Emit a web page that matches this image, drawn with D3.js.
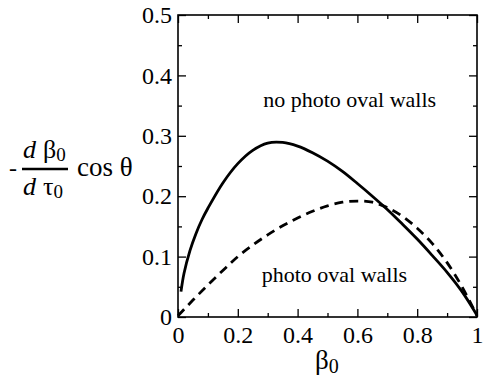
<!DOCTYPE html>
<html>
<head>
<meta charset="utf-8">
<script src="https://cdn.jsdelivr.net/npm/d3@7"></script>
<style>
  body { margin: 0; background: #fff; }
</style>
</head>
<body>
<div id="chart-area"></div>
<script>
// data
var beta = [0.01, 0.02, 0.04, 0.06, 0.08, 0.1, 0.15, 0.2, 0.25, 0.3, 0.35, 0.4, 0.45, 0.5,
            0.55, 0.6, 0.65, 0.7, 0.75, 0.8, 0.85, 0.9, 0.95, 1.0];
var noWalls = [0.042, 0.072, 0.11, 0.138, 0.161, 0.18, 0.222, 0.254, 0.276, 0.288, 0.289, 0.283,
               0.272, 0.258, 0.241, 0.221, 0.2, 0.178, 0.154, 0.129, 0.102, 0.074, 0.042, 0.003];

var betaD = [0, 0.05, 0.1, 0.15, 0.2, 0.25, 0.3, 0.35, 0.4, 0.45, 0.5, 0.55, 0.6, 0.65, 0.7,
             0.75, 0.8, 0.85, 0.9, 0.95, 1.0];
var withWalls = [0.002, 0.028, 0.053, 0.077, 0.1, 0.119, 0.136, 0.151, 0.164, 0.175, 0.184, 0.19,
                 0.192, 0.19, 0.181, 0.167, 0.147, 0.122, 0.09, 0.05, 0.002];

var xTicks = [0, 0.2, 0.4, 0.6, 0.8, 1];
var xMinor = [0.1, 0.3, 0.5, 0.7, 0.9];
var yTicks = [0, 0.1, 0.2, 0.3, 0.4, 0.5];
var yMinor = [0.05, 0.15, 0.25, 0.35, 0.45];

var serif = "Liberation Serif";

var margin = { left:178, right:7, top:15, bottom:62 },
    width = 484 - margin.left - margin.right,
    height = 379 - margin.top - margin.bottom;

var svg = d3.select("#chart-area").append("svg")
    .attr("width", 484)
    .attr("height", 379)
    .style("font-family", serif);

var g = svg.append("g")
    .attr("transform", "translate(" + margin.left + "," + margin.top + ")");

var x = d3.scaleLinear().domain([0, 1]).range([0, width]);
var y = d3.scaleLinear().domain([0, 0.5]).range([height, 0]);

var fmt = d3.format("");

function styleAxis(sel) {
    sel.attr("font-family", null).attr("font-size", null);
    sel.select(".domain").remove();
    sel.selectAll("line").attr("stroke", "#000").attr("stroke-width", 1.3);
    sel.selectAll("text").style("font-family", serif).style("font-size", "24px");
}

// bottom
g.append("g").attr("transform", "translate(0," + height + ")")
    .call(d3.axisBottom(x).tickValues(xTicks).tickFormat(fmt).tickSize(-8).tickPadding(9))
    .call(styleAxis);
g.append("g").attr("transform", "translate(0," + height + ")")
    .call(d3.axisBottom(x).tickValues(xMinor).tickFormat("").tickSize(-4))
    .call(styleAxis);
// top
g.append("g")
    .call(d3.axisTop(x).tickValues(xTicks).tickFormat("").tickSize(-8))
    .call(styleAxis);
g.append("g")
    .call(d3.axisTop(x).tickValues(xMinor).tickFormat("").tickSize(-4))
    .call(styleAxis);
// left
g.append("g")
    .call(d3.axisLeft(y).tickValues(yTicks).tickFormat(fmt).tickSize(-8).tickPadding(6))
    .call(styleAxis);
g.append("g")
    .call(d3.axisLeft(y).tickValues(yMinor).tickFormat("").tickSize(-4))
    .call(styleAxis);
// right
g.append("g").attr("transform", "translate(" + width + ",0)")
    .call(d3.axisRight(y).tickValues(yTicks).tickFormat("").tickSize(-8))
    .call(styleAxis);
g.append("g").attr("transform", "translate(" + width + ",0)")
    .call(d3.axisRight(y).tickValues(yMinor).tickFormat("").tickSize(-4))
    .call(styleAxis);

// frame
g.append("rect")
    .attr("width", width)
    .attr("height", height)
    .attr("fill", "none")
    .attr("stroke", "#000")
    .attr("stroke-width", 1.6);

var line = d3.line()
    .curve(d3.curveCatmullRom.alpha(0.5))
    .x(function(d) { return x(d[0]); })
    .y(function(d) { return y(d[1]); });

g.append("path")
    .datum(betaD.map(function(b, i) { return [b, withWalls[i]]; }))
    .attr("d", line)
    .attr("fill", "none")
    .attr("stroke", "#000")
    .attr("stroke-width", 2.8)
    .attr("stroke-dasharray", "9,6");

g.append("path")
    .datum(beta.map(function(b, i) { return [b, noWalls[i]]; }))
    .attr("d", line)
    .attr("fill", "none")
    .attr("stroke", "#000")
    .attr("stroke-width", 2.8);

// annotations
g.append("text")
    .attr("x", x(0.285))
    .attr("y", y(0.348))
    .style("font-size", "22px")
    .text("no photo oval walls");

g.append("text")
    .attr("x", x(0.28))
    .attr("y", y(0.058))
    .style("font-size", "22px")
    .text("photo oval walls");

// x label
var xl = svg.append("text")
    .attr("x", 315)
    .attr("y", 369)
    .style("font-size", "27px");
xl.append("tspan").text("\u03b2");
xl.append("tspan").style("font-size", "20px").attr("dy", 4).text("0");

// y label: - dβ0/dτ0 cos θ
svg.append("text").attr("x", 9).attr("y", 176).style("font-size", "24px").text("-");
var num = svg.append("text").attr("x", 23).attr("y", 158).style("font-size", "26px");
num.append("tspan").style("font-style", "italic").text("d");
num.append("tspan").attr("dx", 7).text("\u03b2");
num.append("tspan").style("font-size", "19px").attr("dy", 3).text("0");
svg.append("line")
    .attr("x1", 22).attr("x2", 68)
    .attr("y1", 169).attr("y2", 169)
    .attr("stroke", "#000").attr("stroke-width", 2.5);
var den = svg.append("text").attr("x", 23).attr("y", 195).style("font-size", "26px");
den.append("tspan").style("font-style", "italic").text("d");
den.append("tspan").attr("dx", 7).text("\u03c4");
den.append("tspan").style("font-size", "19px").attr("dy", 3).text("0");
svg.append("text").attr("x", 77).attr("y", 176).style("font-size", "27px").text("cos \u03b8");
</script>
</body>
</html>
